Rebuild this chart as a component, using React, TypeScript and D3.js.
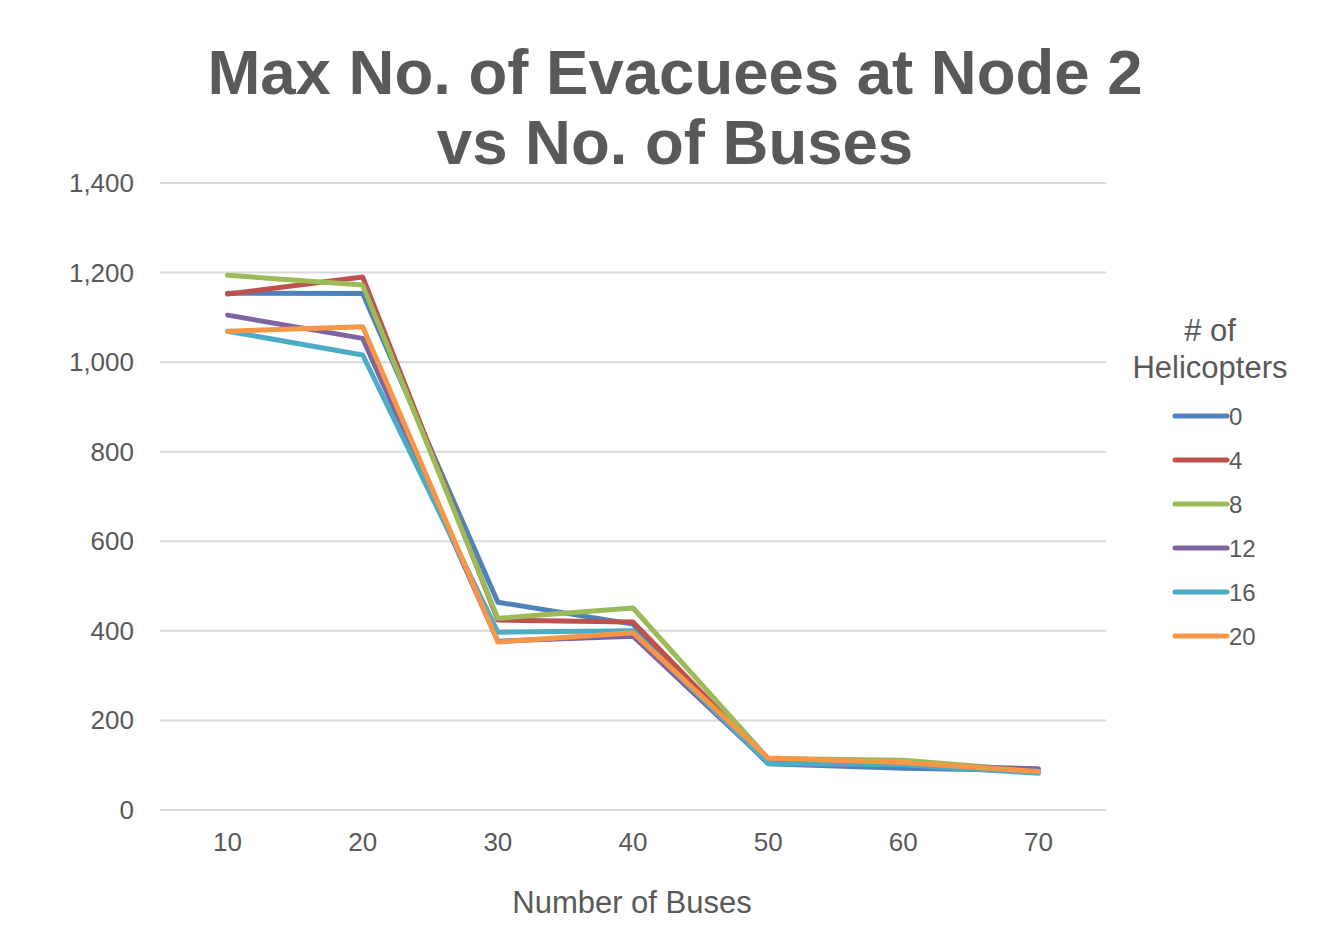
import React from "react";
import * as d3 from "d3";

const buses = [10, 20, 30, 40, 50, 60, 70];
const seriesNames = ["0", "4", "8", "12", "16", "20"];
const colors = ["#4F81BD", "#C0504D", "#9BBB59", "#8064A2", "#4BACC6", "#F79646"];
const heli0 = [1154, 1153, 464, 415, 103, 93, 88];
const heli4 = [1152, 1190, 424, 420, 110, 103, 87];
const heli8 = [1194, 1172, 428, 451, 115, 111, 87];
const heli12 = [1105, 1053, 377, 388, 105, 100, 92];
const heli16 = [1069, 1016, 397, 400, 104, 101, 82];
const heli20 = [1069, 1079, 375, 396, 116, 106, 86];
const yTicks = [0, 200, 400, 600, 800, 1000, 1200, 1400];

const allSeries = [heli0, heli4, heli8, heli12, heli16, heli20];

export default function App() {
  const W = 1337, H = 925;
  const left = 160, right = 1106, top = 183, bottom = 810;
  const x = d3.scaleBand<number>().domain(buses).range([left, right]);
  const y = d3.scaleLinear().domain([0, 1400]).range([bottom, top]);
  const fmt = d3.format(",");
  const line = d3.line<number>()
    .x((_, i) => (x(buses[i]) as number) + x.bandwidth() / 2)
    .y((d) => y(d));
  const font = "Arial, 'Liberation Sans', sans-serif";
  const txt = "#595959";
  return (
    <svg width={W} height={H} style={{ position: "absolute", left: 0, top: 0 }} fontFamily={font}>
      <rect width={W} height={H} fill="#fff" />
      <text x={675} y={94} textAnchor="middle" fontSize={63.5} fontWeight="bold" fill={txt}>Max No. of Evacuees at Node 2</text>
      <text x={675} y={164} textAnchor="middle" fontSize={63.5} fontWeight="bold" fill={txt}>vs No. of Buses</text>
      {yTicks.map((t) => (
        <g key={t}>
          {t > 0 && <line x1={left} x2={right} y1={y(t)} y2={y(t)} stroke="#d9d9d9" strokeWidth={2} />}
          <text x={134} y={y(t) + 9} textAnchor="end" fontSize={26} fill={txt}>{fmt(t)}</text>
        </g>
      ))}
      <line x1={left} x2={right} y1={bottom} y2={bottom} stroke="#d9d9d9" strokeWidth={2} />
      {buses.map((b) => (
        <text key={b} x={(x(b) as number) + x.bandwidth() / 2} y={851} textAnchor="middle" fontSize={26} fill={txt}>{b}</text>
      ))}
      <text x={632} y={913} textAnchor="middle" fontSize={31} fill={txt}>Number of Buses</text>
      {allSeries.map((s, i) => (
        <path key={i} d={line(s) || ""} fill="none" stroke={colors[i]} strokeWidth={5} strokeLinejoin="round" strokeLinecap="round" />
      ))}
      <text x={1210} y={341} textAnchor="middle" fontSize={31} fill={txt}># of</text>
      <text x={1210} y={378} textAnchor="middle" fontSize={31} fill={txt}>Helicopters</text>
      {seriesNames.map((n, i) => (
        <g key={n}>
          <line x1={1175} x2={1227} y1={416 + i * 44} y2={416 + i * 44} stroke={colors[i]} strokeWidth={5} strokeLinecap="round" />
          <text x={1229} y={416 + i * 44 + 8.5} fontSize={24} fill={txt}>{n}</text>
        </g>
      ))}
    </svg>
  );
}
